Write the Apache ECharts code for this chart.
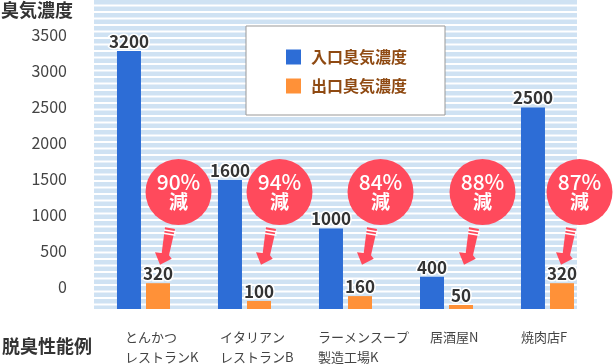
<!DOCTYPE html>
<html><head><meta charset="utf-8">
<style>html,body{margin:0;padding:0;background:#fff}#c{width:615px;height:364px}</style>
<script src="https://cdn.jsdelivr.net/npm/echarts@6/dist/echarts.min.js"></script>
</head><body><div id="c"></div>
<script>
const categories = ['とんかつ\nレストランK','イタリアン\nレストランB','ラーメンスープ\n製造工場K','居酒屋N','焼肉店F'];
const inletValues = [3200,1600,1000,400,2500];
const outletValues = [320,100,160,50,320];
const reductions = ['90%','94%','84%','88%','87%'];
const yTickMax = 3500;
const yTickStep = 500;
const inletName = '入口臭気濃度';
const outletName = '出口臭気濃度';
const yTitle = '臭気濃度';
const xTitle = '脱臭性能例';

const FONT = '"Noto Sans CJK JP","Noto Sans",sans-serif';
const BLUE = '#2d6dd6', ORANGE = '#ff9138', RED = '#ff4a5c';
const labelShift = [-18.5,-24.5,-27.5,-16.5,-26.5];
const bubbleShift = [35,35,35,36,32];

const cv = document.createElement('canvas');
cv.width = 4; cv.height = 13;
const g = cv.getContext('2d');
g.fillStyle = '#fff'; g.fillRect(0,0,4,13);
g.fillStyle = '#cfe2f3'; g.fillRect(0,0,4,4.5); g.fillRect(0,6.5,4,4.5);

const chart = echarts.init(document.getElementById('c'), null, {renderer:'canvas'});
const barLabel = {show:true,position:'top',distance:1,fontFamily:FONT,fontWeight:'bold',fontSize:17,color:'#333',textBorderColor:'#fff',textBorderWidth:3};

function renderNote(params, api){
  const i = params.dataIndex;
  const c = api.coord([i,0]);
  const cx = c[0] + bubbleShift[i], cy = 192;
  const P = (dx,dy)=>[cx+dx,cy+dy];
  const lines = categories[i].split('\n');
  const kids = [
    {type:'circle',shape:{cx,cy,r:33},style:{fill:RED}},
    {type:'text',style:{x:cx,y:cy-9.5,text:reductions[i],fill:'#fff',fontFamily:FONT,fontSize:21,fontWeight:500,align:'center',verticalAlign:'middle'}},
    {type:'text',style:{x:cx,y:cy+10,text:'減',fill:'#fff',fontFamily:FONT,fontSize:19,fontWeight:'bold',align:'center',verticalAlign:'middle'}},
    {type:'polygon',shape:{points:[P(-13.5,35.3),P(-3.5,37),P(-9.5,63.3),P(-6.8,66.7),P(-18.5,72.7),P(-23.5,60.3),P(-16.8,61)]},style:{fill:RED}},
    {type:'line',shape:{x1:cx-14.5,y1:cy+38,x2:cx-2.5,y2:cy+40},style:{stroke:'#fff',lineWidth:1.4}},
    {type:'line',shape:{x1:cx-15,y1:cy+41.3,x2:cx-3,y2:cy+43.3},style:{stroke:'#fff',lineWidth:1.4}}
  ];
  lines.forEach((t,k)=>kids.push({type:'text',style:{x:c[0]+labelShift[i],y:337+k*20.5,text:t,fill:'#444',fontFamily:FONT,fontSize:13,align:'left',verticalAlign:'middle'}}));
  return {type:'group',children:kids};
}

chart.setOption({
  animation:false,
  title:[
    {text:yTitle,left:1,top:1,padding:0,textStyle:{fontFamily:FONT,fontSize:18,fontWeight:'bold',color:'#333'}},
    {text:xTitle,left:2,top:337,padding:0,textStyle:{fontFamily:FONT,fontSize:18,fontWeight:'bold',color:'#333'}}
  ],
  graphic:[{type:'rect',z:-10,silent:true,shape:{x:94,y:0,width:483,height:309},style:{fill:{image:cv,repeat:'repeat'}}}],
  legend:{
    data:[{name:inletName,icon:'rect'},{name:outletName,icon:'rect'}],orient:'vertical',left:246,top:26,
    padding:[23,38,21,40],itemWidth:15,itemHeight:15,itemGap:13,
    backgroundColor:'#fff',borderColor:'#999',borderWidth:1,borderRadius:0,
    textStyle:{fontFamily:FONT,fontSize:16,fontWeight:'bold',color:'#8f4a12',padding:[0,0,0,5]}
  },
  grid:[
    {left:93,top:0,width:505,height:309,containLabel:false},
    {left:93,top:35,width:505,height:252,containLabel:false}
  ],
  xAxis:[
    {type:'category',gridIndex:0,data:categories,axisLine:{show:false},axisTick:{show:false},axisLabel:{show:false}},
    {type:'category',gridIndex:1,data:categories,show:false}
  ],
  yAxis:[
    {type:'value',gridIndex:0,min:0,max:3833,show:false,splitLine:{show:false}},
    {type:'value',gridIndex:1,min:0,max:yTickMax,interval:yTickStep,axisLine:{show:false},axisTick:{show:false},splitLine:{show:false},
     axisLabel:{margin:26,fontFamily:FONT,fontSize:16,color:'#444',formatter:v=>String(v)}}
  ],
  series:[
    {name:inletName,type:'bar',data:inletValues,barWidth:24,barGap:'21%',itemStyle:{color:BLUE},label:barLabel},
    {name:outletName,type:'bar',data:outletValues,barWidth:24,itemStyle:{color:ORANGE},label:barLabel},
    {type:'custom',data:reductions.map((r,i)=>[i,0]),encode:{x:0,y:1},renderItem:renderNote,z:5,silent:true,clip:false}
  ]
});
</script></body></html>
